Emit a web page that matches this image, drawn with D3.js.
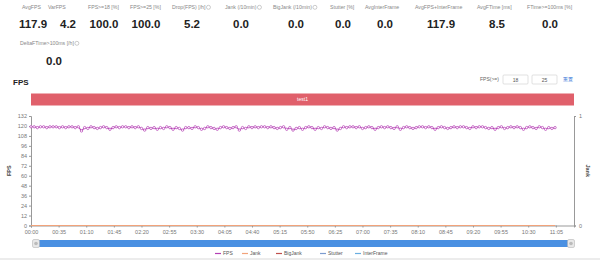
<!DOCTYPE html>
<html>
<head>
  <meta charset="utf-8">
  <title>FPS</title>
  <style>
    body { margin: 0; background: #fff; font-family: 'Liberation Sans', Arial, sans-serif; }
    svg text { font-family: 'Liberation Sans', Arial, sans-serif; }
    .axis path, .axis line { stroke: #999; }
    .axis text { fill: #777; font-size: 5.5px; }
  </style>
</head>
<body>
  <div id="chart"></div>
  <script src="https://d3js.org/d3.v7.min.js"></script>
  <script>
    // summary stats
    var statLabels = ['AvgFPS', 'VarFPS', 'FPS>=18 [%]', 'FPS>=25 [%]', 'Drop(FPS) [/h]', 'Jank (/10min)',
      'BigJank (/10min)', 'Stutter [%]', 'AvgInterFrame', 'AvgFPS+InterFrame', 'AvgFTime [ms]', 'FTime>=100ms [%]'];
    var statValues = ['117.9', '4.2', '100.0', '100.0', '5.2', '0.0', '0.0', '0.0', '0.0', '117.9', '8.5', '0.0'];
    var statHelp = [false, false, false, false, true, true, true, false, false, false, false, false];
    var stat2Labels = ['DeltaFTime>100ms [/h]'];
    var stat2Values = ['0.0'];

    var barLabel = 'test1';
    var legendNames = ['FPS', 'Jank', 'BigJank', 'Stutter', 'InterFrame'];
    var legendColors = ['#b43fb4', '#f2a37a', '#c0504d', '#7d9ccf', '#6aaee0'];
    var thresholds = ['18', '25'];

    // one fps sample every 4 seconds
    var sampleStep = 4;
    var fps = [
      119, 119, 118, 119, 119, 118, 119, 119, 119, 118,
      119, 118, 119, 119, 118, 119, 114, 118, 117, 119,
      118, 117, 118, 119, 118, 116, 118, 119, 118, 119,
      119, 118, 119, 118, 119, 117, 115, 118, 117, 118,
      116, 118, 117, 119, 118, 116, 118, 117, 115, 118,
      118, 117, 119, 118, 116, 117, 119, 118, 117, 116,
      118, 119, 118, 117, 118, 119, 115, 118, 117, 119,
      118, 119, 118, 119, 119, 118, 119, 118, 117, 118,
      119, 116, 118, 115, 117, 118, 116, 118, 119, 118,
      116, 118, 117, 119, 118, 117, 118, 115, 117, 119,
      118, 119, 119, 118, 119, 117, 118, 119, 118, 116,
      118, 119, 118, 119, 118, 117, 119, 116, 118, 119,
      118, 117, 118, 119, 119, 118, 119, 118, 116, 118,
      119, 118, 117, 118, 119, 118, 119, 119, 118, 117,
      119, 118, 119, 119, 118, 117, 118, 116, 118, 119,
      117, 118, 119, 118, 119, 118, 116, 118, 119, 118,
      117, 119, 118, 116, 118, 117, 118
    ];
    var jank = fps.map(function() { return 0; });
    var bigJank = fps.map(function() { return 0; });
    var stutter = fps.map(function() { return 0; });
    var interFrame = fps.map(function() { return 0; });

    var fpsTicks = d3.range(0, 133, 12);
    var timeTicks = d3.range(0, 680, 35);

    var W = 600, H = 260;
    var svg = d3.select('#chart').append('svg')
      .attr('width', W)
      .attr('height', H);

    // ---------- stats ----------
    var statLabelX = [22, 48, 88, 130, 172, 225, 273, 330, 365, 415, 477, 527];
    var statValueX = [33, 68, 104, 146, 192, 241, 296, 343, 385, 441, 497, 550];

    var stats = svg.append('g');
    statLabels.forEach(function(l, i) {
      var t = stats.append('text')
        .attr('x', statLabelX[i]).attr('y', 9)
        .attr('font-size', 5.2).attr('fill', '#888')
        .text(l);
      if (statHelp[i]) {
        var w = t.node().getComputedTextLength();
        stats.append('circle')
          .attr('cx', statLabelX[i] + w + 3).attr('cy', 7.3).attr('r', 2)
          .attr('fill', 'none').attr('stroke', '#999').attr('stroke-width', 0.5);
      }
      stats.append('text')
        .attr('x', statValueX[i]).attr('y', 28)
        .attr('text-anchor', 'middle')
        .attr('font-size', 11.5).attr('font-weight', 'bold').attr('fill', '#222')
        .text(statValues[i]);
    });
    stat2Labels.forEach(function(l, i) {
      var t = stats.append('text')
        .attr('x', 20).attr('y', 45)
        .attr('font-size', 5.2).attr('fill', '#888')
        .text(l);
      var w = t.node().getComputedTextLength();
      stats.append('circle')
        .attr('cx', 20 + w + 3).attr('cy', 43.3).attr('r', 2)
        .attr('fill', 'none').attr('stroke', '#999').attr('stroke-width', 0.5);
      stats.append('text')
        .attr('x', 54).attr('y', 65)
        .attr('text-anchor', 'middle')
        .attr('font-size', 11.5).attr('font-weight', 'bold').attr('fill', '#222')
        .text(stat2Values[i]);
    });

    // ---------- chart header ----------
    svg.append('text')
      .attr('x', 13).attr('y', 85)
      .attr('font-size', 8).attr('font-weight', 'bold').attr('fill', '#222')
      .text('FPS');

    svg.append('text')
      .attr('x', 480).attr('y', 80.5)
      .attr('font-size', 5).attr('fill', '#666')
      .text('FPS(>=)');
    thresholds.forEach(function(v, i) {
      var bx = 503 + i * 29;
      svg.append('rect')
        .attr('x', bx).attr('y', 75).attr('width', 25).attr('height', 9)
        .attr('fill', '#fff').attr('stroke', '#ccc').attr('stroke-width', 0.6).attr('rx', 1);
      svg.append('text')
        .attr('x', bx + 12.5).attr('y', 81.5).attr('text-anchor', 'middle')
        .attr('font-size', 5).attr('fill', '#555')
        .text(v);
    });
    svg.append('text')
      .attr('x', 563).attr('y', 81)
      .attr('font-size', 5).attr('fill', '#3a78d8')
      .text('重置');

    var x = d3.scaleLinear().domain([0, 688]).range([31, 574]);
    var y = d3.scaleLinear().domain([0, 132]).range([225.5, 116]);
    var yR = d3.scaleLinear().domain([0, 1]).range([225.5, 116]);

    // red device bar
    svg.append('rect')
      .attr('x', x.range()[0]).attr('y', 93.5)
      .attr('width', x.range()[1] - x.range()[0]).attr('height', 12)
      .attr('fill', '#e0606b');
    svg.append('text')
      .attr('x', (x.range()[0] + x.range()[1]) / 2).attr('y', 101.3)
      .attr('text-anchor', 'middle')
      .attr('font-size', 5).attr('fill', '#fff')
      .text(barLabel);

    // ---------- axes ----------
    svg.append('g').attr('class', 'axis')
      .attr('transform', 'translate(' + x.range()[0] + ',0)')
      .call(d3.axisLeft(y).tickValues(fpsTicks).tickSize(2).tickPadding(2))
      .call(function(g) { g.select('.domain').attr('stroke', '#bbb'); });

    svg.append('g').attr('class', 'axis')
      .attr('transform', 'translate(' + x.range()[1] + ',0)')
      .call(d3.axisRight(yR).tickValues([0, 1]).tickFormat(d3.format('d')).tickSize(2).tickPadding(3))
      .call(function(g) { g.select('.domain').attr('stroke', '#ccc'); });

    svg.append('g').attr('class', 'axis')
      .attr('transform', 'translate(0,' + y(0) + ')')
      .call(d3.axisBottom(x).tickValues(timeTicks).tickSize(2).tickPadding(3)
        .tickFormat(function(s) { return d3.format('02')(Math.floor(s / 60)) + ':' + d3.format('02')(s % 60); }))
      .call(function(g) { g.select('.domain').attr('stroke', '#bbb'); });

    svg.append('text')
      .attr('transform', 'translate(11,' + ((y.range()[0] + y.range()[1]) / 2) + ') rotate(-90)')
      .attr('text-anchor', 'middle')
      .attr('font-size', 5.5).attr('font-weight', 'bold').attr('fill', '#444')
      .text('FPS');
    svg.append('text')
      .attr('transform', 'translate(586,' + ((y.range()[0] + y.range()[1]) / 2) + ') rotate(90)')
      .attr('text-anchor', 'middle')
      .attr('font-size', 5.5).attr('font-weight', 'bold').attr('fill', '#444')
      .text('Jank');

    // ---------- series ----------
    var lineR = d3.line()
      .x(function(d, i) { return x(i * sampleStep); })
      .y(function(d) { return yR(d); });
    [interFrame, stutter, bigJank, jank].forEach(function(s, k) {
      svg.append('path')
        .datum(s)
        .attr('fill', 'none')
        .attr('stroke', legendColors[4 - k])
        .attr('stroke-width', 1.2)
        .attr('d', lineR);
    });

    var lineFps = d3.line()
      .x(function(d, i) { return x(i * sampleStep); })
      .y(function(d) { return y(d); });
    svg.append('path')
      .datum(fps)
      .attr('fill', 'none')
      .attr('stroke', legendColors[0])
      .attr('stroke-width', 1.1)
      .attr('d', lineFps);
    svg.append('g').selectAll('circle')
      .data(fps)
      .enter().append('circle')
      .attr('cx', function(d, i) { return x(i * sampleStep); })
      .attr('cy', function(d) { return y(d); })
      .attr('r', 1.2)
      .attr('fill', '#fff')
      .attr('stroke', legendColors[0])
      .attr('stroke-width', 0.7);

    // ---------- data zoom slider ----------
    svg.append('rect')
      .attr('x', 33).attr('y', 240).attr('width', 541).attr('height', 7)
      .attr('fill', '#4a90e2').attr('rx', 1);
    [36, 571].forEach(function(hx) {
      svg.append('rect')
        .attr('x', hx - 3.5).attr('y', 239.5).attr('width', 7).attr('height', 8)
        .attr('rx', 1.5).attr('fill', '#e8e8e8').attr('stroke', '#aaa').attr('stroke-width', 0.5);
      svg.append('circle')
        .attr('cx', hx).attr('cy', 243.5).attr('r', 1.8)
        .attr('fill', '#bbb');
    });

    // ---------- legend ----------
    var legendX = [215, 242, 276, 320, 355];
    var lg = svg.append('g');
    legendNames.forEach(function(n, i) {
      lg.append('line')
        .attr('x1', legendX[i]).attr('x2', legendX[i] + 6)
        .attr('y1', 253.5).attr('y2', 253.5)
        .attr('stroke', legendColors[i]).attr('stroke-width', 1.2);
      lg.append('text')
        .attr('x', legendX[i] + 8).attr('y', 255.3)
        .attr('font-size', 5).attr('fill', '#555')
        .text(n);
    });

    // bottom shade
    svg.append('rect')
      .attr('x', 0).attr('y', 258).attr('width', W).attr('height', 2)
      .attr('fill', '#ececec');
  </script>
</body>
</html>
